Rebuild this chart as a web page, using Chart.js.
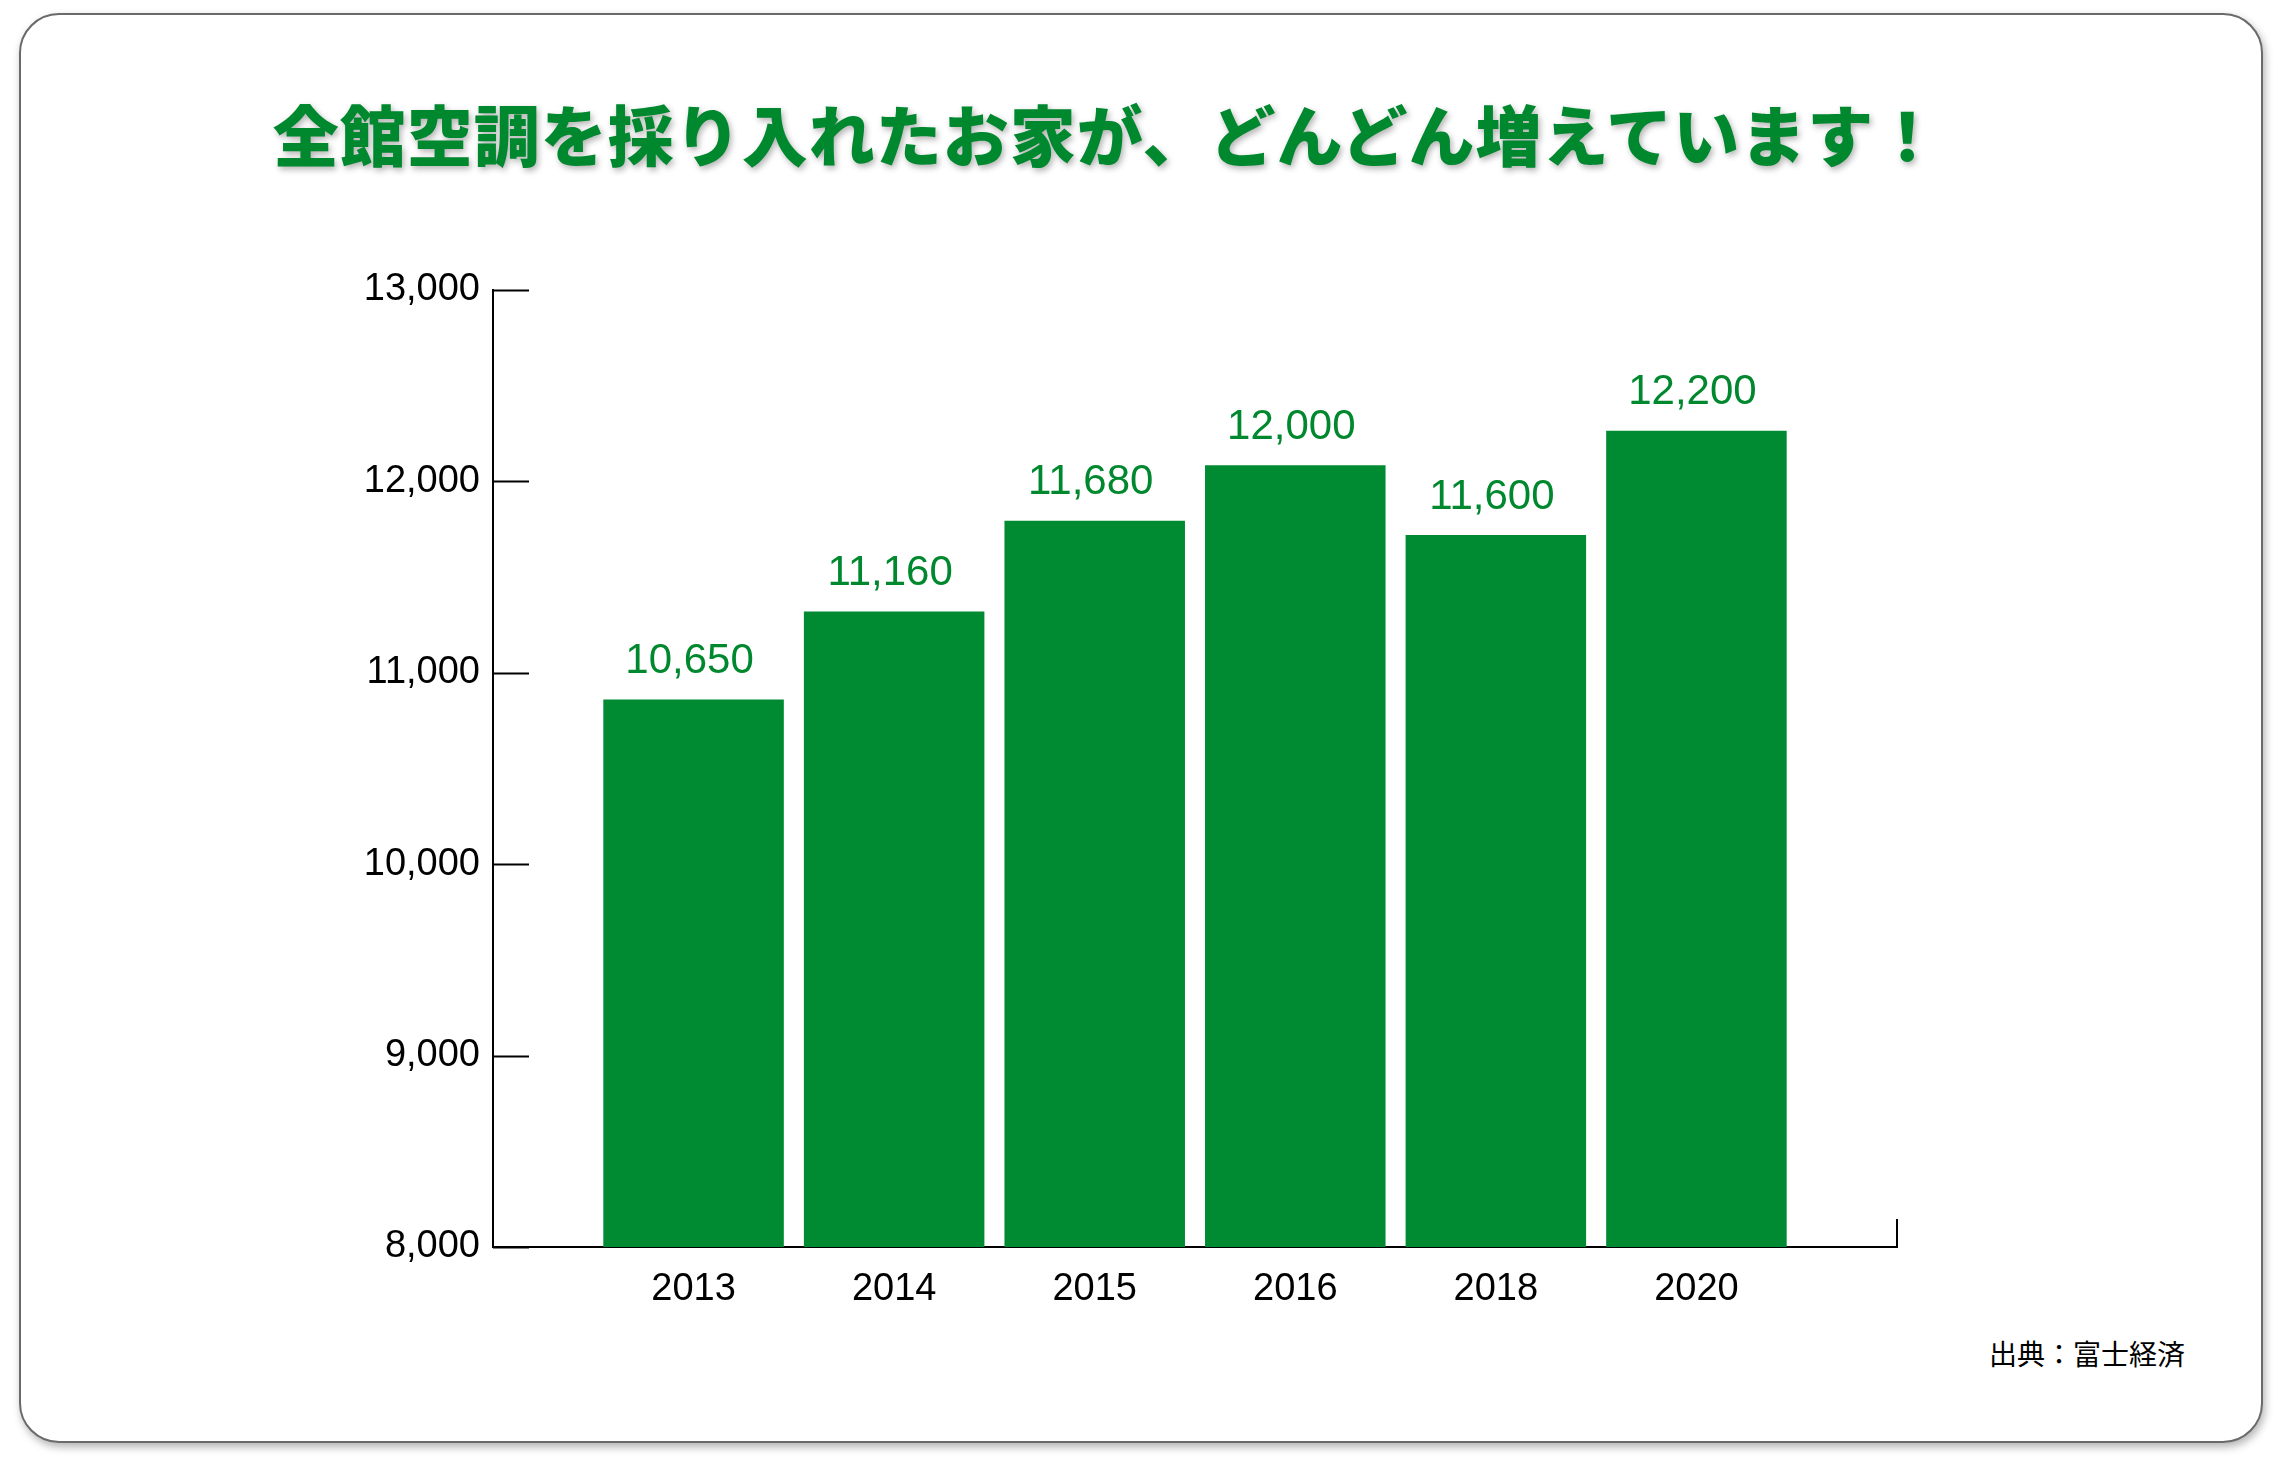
<!DOCTYPE html>
<html><head><meta charset="utf-8">
<script src="https://cdn.jsdelivr.net/npm/chart.js@4.4.0/dist/chart.umd.min.js"></script>
<style>
html,body{margin:0;padding:0;background:#fff;width:2282px;height:1468px;overflow:hidden;font-family:"Liberation Sans",Arial,sans-serif;}
#card{position:absolute;left:19px;top:13px;width:2240px;height:1426px;border:2px solid #6a6a6a;border-radius:40px;box-shadow:2px 4px 8px rgba(0,0,0,0.3);background:#fff;}
#title{position:absolute;left:0;width:2214px;top:84px;text-align:center;font-family:"Noto Sans CJK JP";font-weight:900;font-size:66px;color:#00882f;text-shadow:2px 3px 6px rgba(0,0,0,0.3);letter-spacing:1px;}
#src{position:absolute;left:1989px;top:1333px;font-family:"Noto Sans CJK JP";font-size:28px;color:#000;}
#wrap{position:absolute;left:0;top:0;width:2282px;height:1468px;}
</style></head><body>
<div id="card"></div>
<div id="title">全館空調を採り入れたお家が、どんどん増えています！</div>
<div id="src">出典：富士経済</div>
<div id="wrap"><canvas id="c"></canvas></div>
<script>
const categories = ['', '2013', '2014', '2015', '2016', '2018', '2020', ''];
const barValues = [null, 10860, 11320, 11795, 12085, 11720, 12265, null];
const valueLabels = ['', '10,650', '11,160', '11,680', '12,000', '11,600', '12,200', ''];
const yTicks = [8000, 9000, 10000, 11000, 12000, 13000];
const green = '#008a32';

const deco = {
  id: 'deco',
  afterDatasetsDraw(chart) {
    const ctx = chart.ctx, y = chart.scales.y, x = chart.scales.x, a = chart.chartArea;
    ctx.save();
    ctx.strokeStyle = '#000'; ctx.lineWidth = 2;
    yTicks.forEach(v => {
      const p = Math.round(y.getPixelForValue(v)) + 0.5;
      ctx.beginPath(); ctx.moveTo(a.left, p); ctx.lineTo(a.left + 36, p); ctx.stroke();
    });
    ctx.beginPath(); ctx.moveTo(a.right, a.bottom); ctx.lineTo(a.right, a.bottom - 28); ctx.stroke();
    ctx.fillStyle = '#00882f';
    ctx.font = '42px "Liberation Sans", Arial, sans-serif';
    ctx.textAlign = 'center'; ctx.textBaseline = 'middle';
    chart.getDatasetMeta(0).data.forEach((bar, i) => {
      if (barValues[i] == null) return;
      ctx.fillText(valueLabels[i], bar.x - 4, bar.y - 38);
    });
    ctx.restore();
  }
};

new Chart(document.getElementById('c'), {
  type: 'bar',
  data: { labels: categories, datasets: [{ data: barValues, backgroundColor: green, barPercentage: 0.9, categoryPercentage: 1 }] },
  options: {
    responsive: true, maintainAspectRatio: false, animation: false,
    layout: { padding: { left: 300, right: 385, top: 290, bottom: 141 } },
    plugins: { legend: { display: false }, tooltip: { enabled: false } },
    scales: {
      x: {
        offset: false,
        grid: { display: false, drawTicks: false },
        border: { color: '#000', width: 2 },
        ticks: { color: '#000', font: { size: 38, family: '"Liberation Sans", Arial' }, padding: 20, maxRotation: 0, autoSkip: false },
        afterFit(s) { s.height = 80; }
      },
      y: {
        min: 8000, max: 13000,
        grid: { display: false, drawTicks: false },
        border: { color: '#000', width: 2 },
        ticks: { stepSize: 1000, color: '#000', font: { size: 38, family: '"Liberation Sans", Arial' }, padding: 13 },
        afterFit(s) { s.width = 193; }
      }
    }
  },
  plugins: [deco]
});
</script>
</body></html>
